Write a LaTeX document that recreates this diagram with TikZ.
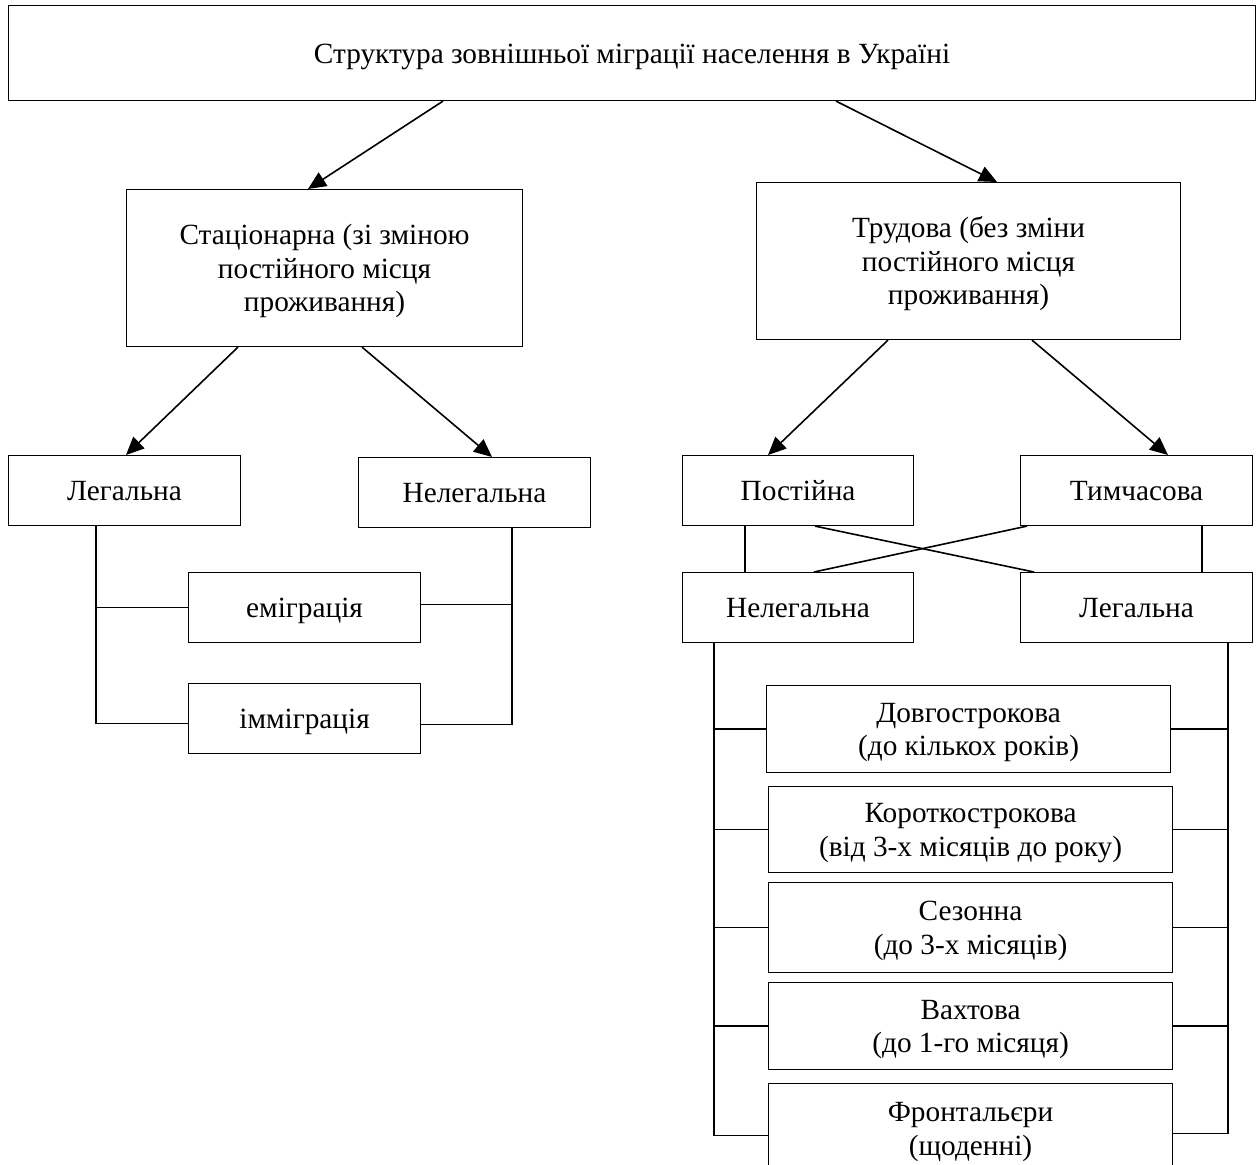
\documentclass[tikz,border=0pt]{standalone}
\usepackage{fontspec}
\setmainfont{Liberation Serif}
\usetikzlibrary{arrows.meta,calc}
\begin{document}
\begin{tikzpicture}[x=1pt,y=-1pt,
 box/.style={draw,line width=1.1pt,inner sep=0pt,anchor=north west,align=center,
   font=\fontsize{29.3}{33.5}\selectfont,text depth=0pt},
 one/.style={text height=20pt},
 two/.style={text height=53.5pt},
 three/.style={text height=87pt},
 arr/.style={line width=1.6pt,-{Triangle[length=18pt,width=16pt]}},
 ln/.style={line width=1.6pt}]
\useasboundingbox (0,0) rectangle (1259,1165);
\clip (0,0) rectangle (1259,1165);

\node[box,one,minimum width=1247pt,minimum height=95pt] (top) at (8,5) {Структура зовнішньої міграції населення в Україні};
\node[box,three,minimum width=396pt,minimum height=157pt] (stat) at (126,189) {Стаціонарна (зі зміною\\постійного місця\\проживання)};
\node[box,three,minimum width=424pt,minimum height=157pt] (trud) at (756,182) {Трудова (без зміни\\постійного місця\\проживання)};

\node[box,one,minimum width=232pt,minimum height=70pt] (legL) at (8,455) {Легальна};
\node[box,one,minimum width=232pt,minimum height=70pt] (nelL) at (358,457) {Нелегальна};
\node[box,one,minimum width=232pt,minimum height=70pt] (emig) at (188,572) {еміграція};
\node[box,one,minimum width=232pt,minimum height=70pt] (immig) at (188,683) {імміграція};

\node[box,one,minimum width=231pt,minimum height=70pt] (post) at (682,455) {Постійна};
\node[box,one,minimum width=232pt,minimum height=70pt] (tymch) at (1020,455) {Тимчасова};
\node[box,one,minimum width=231pt,minimum height=70pt] (nelR) at (682,572) {Нелегальна};
\node[box,one,minimum width=232pt,minimum height=70pt] (legR) at (1020,572) {Легальна};

\node[box,two,minimum width=404pt,minimum height=87pt] (dovg) at (766,685) {Довгострокова\\(до кількох років)};
\node[box,two,minimum width=404pt,minimum height=86pt] (korot) at (768,786) {Короткострокова\\(від 3-х місяців до року)};
\node[box,two,minimum width=404pt,minimum height=90pt] (sez) at (768,882) {Сезонна\\(до 3-х місяців)};
\node[box,two,minimum width=404pt,minimum height=87pt] (vakh) at (768,982) {Вахтова\\(до 1-го місяця)};
\node[box,two,minimum width=404pt,minimum height=90pt] (front) at (768,1083) {Фронтальєри\\(щоденні)};

% arrows
\draw[arr] ([xshift=435pt]top.south west) -- ([xshift=182pt]stat.north west);
\draw[arr] ([xshift=828pt]top.south west) -- ([xshift=241pt]trud.north west);
\draw[arr] ([xshift=112pt]stat.south west) -- ([xshift=118pt]legL.north west);
\draw[arr] ([xshift=236pt]stat.south west) -- ([xshift=134pt]nelL.north west);
\draw[arr] ([xshift=132pt]trud.south west) -- ([xshift=86pt]post.north west);
\draw[arr] ([xshift=276pt]trud.south west) -- ([xshift=148pt]tymch.north west);

% left brackets
\coordinate (lb) at ([xshift=88pt]legL.south west);
\coordinate (rb) at ([xshift=154pt]nelL.south west);
\draw[ln] (lb) |- ([yshift=-5pt]immig.west);
\draw[ln] (emig.west) -- (emig.west -| lb);
\draw[ln] (rb) |- ([yshift=-6pt]immig.east);
\draw[ln] ([yshift=3pt]emig.east) -- ([yshift=3pt]emig.east -| rb);

% cross
\draw[ln] ([xshift=133pt]post.south west) -- ([xshift=14pt]legR.north west);
\draw[ln] ([xshift=7pt]tymch.south west) -- ([xshift=132pt]nelR.north west);
\draw[ln] ([xshift=63pt]post.south west) -- ([xshift=63pt]nelR.north west);
\draw[ln] ([xshift=182pt]tymch.south west) -- ([xshift=182pt]legR.north west);

% bottom brackets
\coordinate (lb2) at ([xshift=32pt]nelR.south west);
\coordinate (rb2) at ([xshift=208pt]legR.south west);
\draw[ln] (lb2) |- ([yshift=-7pt]front.west);
\draw[ln] (rb2) |- ([yshift=-5pt]front.east);
\foreach \n in {dovg,korot,sez,vakh}{
  \draw[ln] (\n.west) -- (\n.west -| lb2);
  \draw[ln] (\n.east) -- (\n.east -| rb2);
}
\end{tikzpicture}
\end{document}
